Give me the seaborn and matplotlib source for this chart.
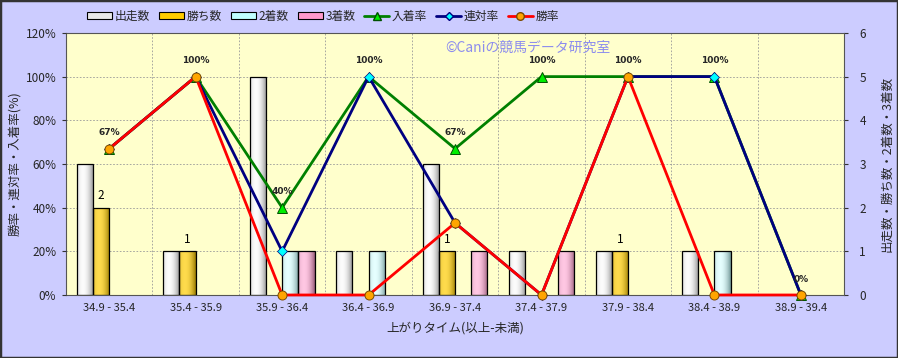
import matplotlib
matplotlib.use("Agg")
import matplotlib.pyplot as plt
from matplotlib.lines import Line2D
from matplotlib.patches import Patch, Rectangle
from matplotlib.ticker import FixedLocator
import numpy as np
import pandas as pd
import seaborn as sns

# ── data ─────────────────────────────────────────────────────────────────
CATEGORIES = ["34.9 - 35.4", "35.4 - 35.9", "35.9 - 36.4", "36.4 - 36.9", "36.9 - 37.4",
              "37.4 - 37.9", "37.9 - 38.4", "38.4 - 38.9", "38.9 - 39.4"]
RUNS = [3, 1, 5, 1, 3, 1, 1, 1, 0]
WINS = [2, 1, 0, 0, 1, 0, 1, 0, 0]
SECONDS = [0, 0, 1, 1, 0, 0, 0, 1, 0]
THIRDS = [0, 0, 1, 0, 1, 1, 0, 0, 0]
PLACE_RATE = [67, 100, 40, 100, 67, 100, 100, 100, 0]
QUINELLA_RATE = [67, 100, 20, 100, 33, 0, 100, 100, 0]
WIN_RATE = [67, 100, 0, 0, 33, 0, 100, 0, 0]

BAR_NAMES = ["出走数", "勝ち数", "2着数", "3着数"]
BAR_COLORS = ["#E8E8E8", "#FFCC00", "#C0FFFF", "#FF99CC"]
LIGHTEN = [0.85, 0.3, 0.6, 0.45]


def shade_bars(ax):
    """Paint a cylinder-like horizontal gradient inside every bar."""
    t = np.linspace(0, 1, 64)
    s = np.clip(1 - ((t - 0.35) / 0.65) ** 2, 0, 1)[:, None]
    for patch in ax.patches:
        h = patch.get_height()
        if h <= 0:
            patch.set_visible(False)
            continue
        base = np.array(patch.get_facecolor()[:3])
        k = LIGHTEN[int(np.argmin([np.abs(base - np.array(matplotlib.colors.to_rgb(c))).sum()
                                   for c in BAR_COLORS]))]
        dark = base * 0.6
        light = base + (1 - base) * k
        grad = dark + (light - dark) * s
        x0, w = patch.get_x(), patch.get_width()
        im = ax.imshow(grad[None, :, :], extent=[x0, x0 + w, 0, h], aspect="auto",
                       zorder=1.5, interpolation="bilinear")
        im.set_clip_path(patch)
        patch.set_facecolor("none")
        patch.set_zorder(2)


sns.set_theme(style="white")
plt.rcParams["font.family"] = ["Noto Sans CJK JP", "DejaVu Sans"]

fig, ax = plt.subplots(figsize=(8.98, 3.58), dpi=100)
fig.patch.set_facecolor("#CCCCFF")
fig.subplots_adjust(left=0.0735, right=0.94, top=0.908, bottom=0.176)
ax.set_facecolor("#FFFFCC")
ax2 = ax.twinx()

counts = pd.DataFrame({"区間": CATEGORIES, "出走数": RUNS, "勝ち数": WINS,
                       "2着数": SECONDS, "3着数": THIRDS})
counts = counts.melt(id_vars="区間", var_name="種別", value_name="数")

sns.barplot(data=counts, x="区間", y="数", hue="種別", hue_order=BAR_NAMES,
            palette=BAR_COLORS, saturation=1, width=0.75, errorbar=None,
            edgecolor="black", linewidth=0.9, legend=False, ax=ax)
shade_bars(ax)

ax.bar_label(ax.containers[1], labels=[str(v) if v > 0 else "" for v in WINS],
             padding=4, fontsize=8.5, color="black")

ax.set_xlim(-0.5, len(CATEGORIES) - 0.5)
ax.set_ylim(0, 6)
ax.set_yticks(range(0, 7))
ax.set_xlabel("上がりタイム(以上-未満)", fontsize=9, labelpad=6)
ax.set_xticks(range(len(CATEGORIES)))
ax.set_xticklabels(CATEGORIES, fontsize=8)
ax.xaxis.set_minor_locator(FixedLocator(np.arange(0.5, len(CATEGORIES) - 0.5, 1)))
ax.tick_params(axis="x", which="both", length=0, pad=6)
ax.grid(axis="y", which="major", color="#999999", linestyle=(0, (2, 2)), linewidth=0.6)
ax.grid(axis="x", which="minor", color="#999999", linestyle=(0, (2, 2)), linewidth=0.6)
ax.set_axisbelow(True)
for sp in ax.spines.values():
    sp.set_color("#555555")
    sp.set_linewidth(0.8)

# count axis ticks go to the right, rate axis ticks to the left
ax.yaxis.tick_right()
ax.yaxis.set_label_position("right")
ax.set_ylabel("出走数・勝ち数・2着数・3着数", fontsize=9, labelpad=10)
ax.tick_params(axis="y", length=3, width=0.8, labelsize=8.5, color="#333333", pad=8)

ax2.yaxis.tick_left()
ax2.yaxis.set_label_position("left")
xpos = np.arange(len(CATEGORIES))

sns.lineplot(x=xpos, y=PLACE_RATE, ax=ax2, color="#008000", linewidth=2,
             marker="^", markersize=7, markerfacecolor="#00EE00",
             markeredgecolor="#005000", markeredgewidth=0.7)
sns.lineplot(x=xpos, y=QUINELLA_RATE, ax=ax2, color="#000080", linewidth=2,
             marker="D", markersize=5, markerfacecolor="#00FFFF",
             markeredgecolor="#000080", markeredgewidth=0.5)
sns.lineplot(x=xpos, y=WIN_RATE, ax=ax2, color="#FF0000", linewidth=2,
             marker="o", markersize=6.5, markerfacecolor="#FFA500",
             markeredgecolor="#7A4A00", markeredgewidth=0.7)
for line in ax2.lines:
    line.set_clip_on(False)

for i, v in enumerate(PLACE_RATE):
    ax2.annotate(f"{v}%", (i, v), xytext=(0, 11.5), textcoords="offset points",
                 ha="center", va="center", fontsize=6.5, fontweight="bold",
                 family="DejaVu Sans")

ax2.set_xlim(-0.5, len(CATEGORIES) - 0.5)
ax2.set_ylim(0, 120)
ax2.set_yticks(range(0, 121, 20))
ax2.set_yticklabels([f"{v}%" for v in range(0, 121, 20)])
ax2.tick_params(axis="y", length=3, width=0.8, labelsize=8.5, color="#333333", pad=4)
ax2.set_ylabel("勝率・連対率・入着率(%)", fontsize=9, labelpad=3)
ax2.grid(False)
for sp in ax2.spines.values():
    sp.set_visible(False)

ax.text(0.487, 0.943, "©Caniの競馬データ研究室", transform=ax.transAxes,
        ha="left", va="center", fontsize=10, color="#8C8CEE", zorder=5)

# ── legend across the top ────────────────────────────────────────────────
handles = [Patch(facecolor=c, edgecolor="black", linewidth=0.8) for c in BAR_COLORS]
handles += [
    Line2D([], [], color="#008000", lw=2, marker="^", markersize=6,
           markerfacecolor="#00EE00", markeredgecolor="#005000"),
    Line2D([], [], color="#000080", lw=2, marker="D", markersize=4,
           markerfacecolor="#00FFFF", markeredgecolor="#000080"),
    Line2D([], [], color="#FF0000", lw=2, marker="o", markersize=5.5,
           markerfacecolor="#FFA500", markeredgecolor="#7A4A00"),
]
labels = BAR_NAMES + ["入着率", "連対率", "勝率"]
fig.legend(handles, labels, loc="center", bbox_to_anchor=(0.36, 0.955), ncol=7,
           frameon=False, fontsize=8.5, handlelength=2.1, handleheight=0.6,
           columnspacing=0.75, handletextpad=0.25)

fig.patches.append(Rectangle((0, 0), 1, 1, transform=fig.transFigure, fill=False,
                             edgecolor="#333333", linewidth=2.5))

fig.savefig("out.png", dpi=100, facecolor=fig.get_facecolor())
